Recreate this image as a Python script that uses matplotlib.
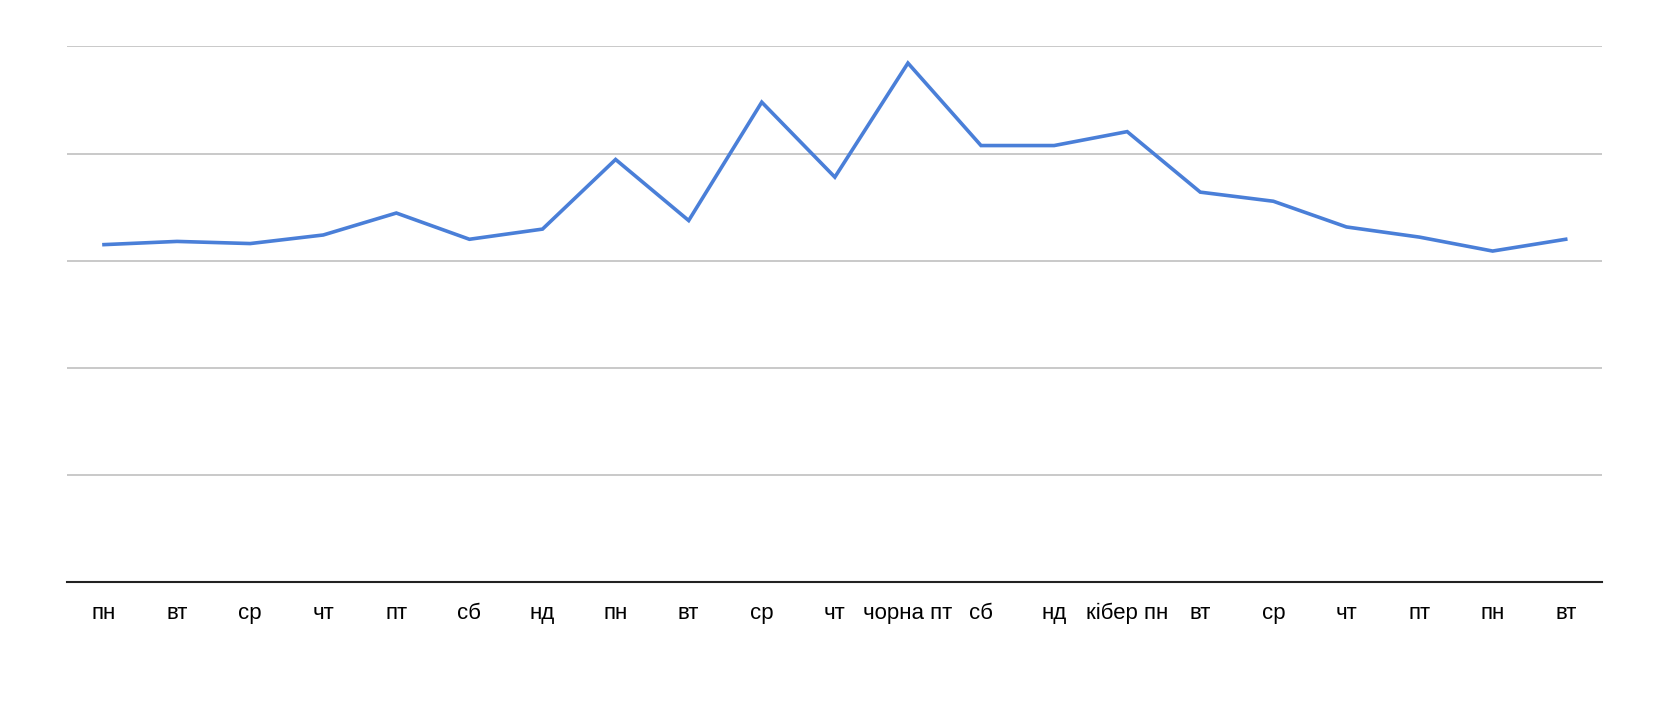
import numpy as np
import matplotlib.pyplot as plt

plt.rcParams['font.family'] = ['Liberation Sans', 'DejaVu Sans']

# Day labels along the x axis
days = ['пн', 'вт', 'ср', 'чт', 'пт', 'сб', 'нд',
        'пн', 'вт', 'ср', 'чт', 'чорна пт', 'сб', 'нд',
        'кібер пн', 'вт', 'ср', 'чт', 'пт', 'пн', 'вт']

# Values (gridline every 20 units)
values = [63.0, 63.6, 63.2, 64.8, 68.9, 64.0, 65.9,
          78.9, 67.5, 89.6, 75.6, 96.9, 81.5, 81.5,
          84.1, 72.8, 71.1, 66.3, 64.4, 61.8, 64.0]

x = np.arange(len(days))

fig = plt.figure(figsize=(16.53, 7.02), dpi=100)
ax = fig.add_axes([0.0408, 0.1709, 0.9285, 0.7629])

ax.plot(x, values, color='#4a7fd8', linewidth=2.6, solid_joinstyle='miter')

ax.set_xlim(-0.5, len(days) - 0.5)
ax.set_ylim(0, 100)
ax.set_yticks([20, 40, 60, 80, 100])
ax.yaxis.grid(True, color='#c0c0c0', linewidth=1.2)
ax.set_axisbelow(True)
ax.tick_params(axis='y', left=False, labelleft=False)

ax.set_xticks(x)
ax.set_xticklabels(days, fontsize=16)
ax.tick_params(axis='x', length=0, pad=15)

for side in ['left', 'right', 'top']:
    ax.spines[side].set_visible(False)
ax.spines['bottom'].set_color('#222222')
ax.spines['bottom'].set_linewidth(1.5)

fig.savefig('out.png', dpi=100)
